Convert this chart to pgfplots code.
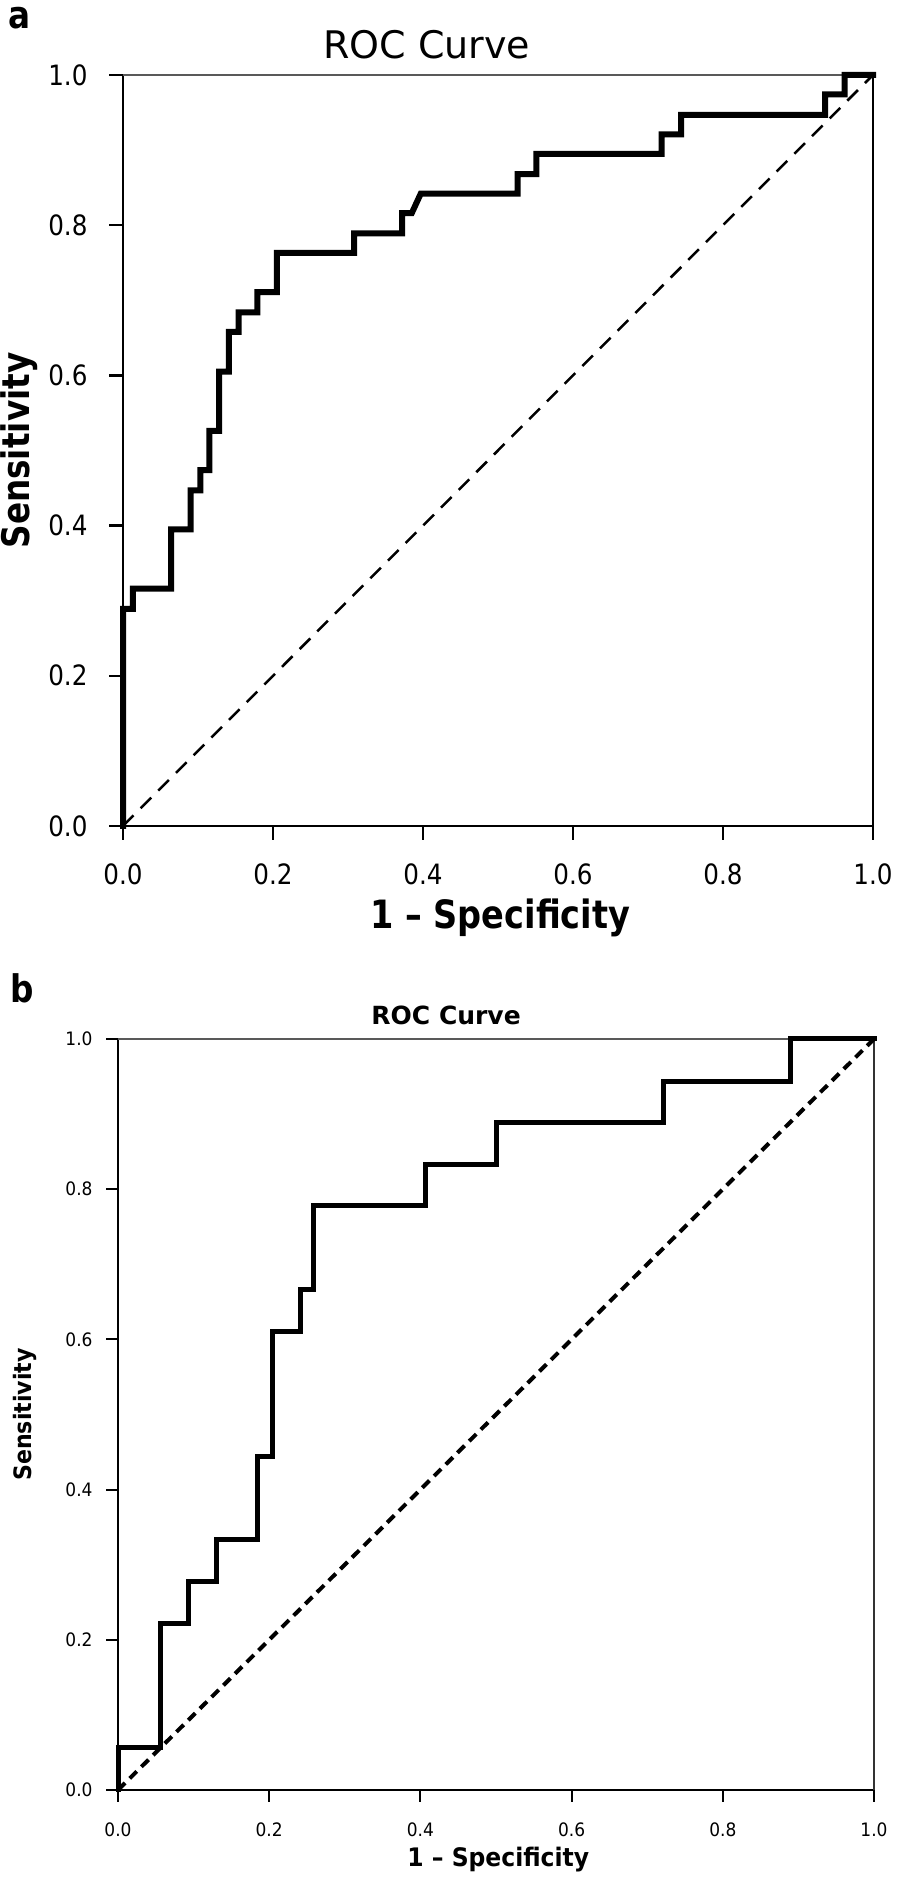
\documentclass[border=0pt]{standalone}
\usepackage{fontspec}
\usepackage{pgfplots}
\pgfplotsset{compat=1.18}
\setmainfont{DejaVu Sans}
\newfontfamily\fa[FakeStretch=0.88]{DejaVu Sans}
\newfontfamily\fal[FakeStretch=0.86]{DejaVu Sans}
\newfontfamily\fb[FakeStretch=0.92]{DejaVu Sans}
\begin{document}
\begin{tikzpicture}
\useasboundingbox (0,0) rectangle (358.4pt,751.2pt);
\pgfplotsset{
  roc/.style={
    scale only axis,
    xmin=0, xmax=1, ymin=0, ymax=1,
    enlargelimits=false,
    axis lines=left,
    axis line style={-},
    xtick={0,0.2,0.4,0.6,0.8,1.0},
    ytick={0,0.2,0.4,0.6,0.8,1.0},
    tick align=outside,
    /pgf/number format/.cd, fixed, fixed zerofill, precision=1, assume math mode=true,
    /pgfplots/.cd,
    clip=false,
  }
}
% ---------- panel a ----------
\begin{axis}[roc,
  at={(49.2pt,420.8pt)}, anchor=south west,
  width=300pt, height=300.4pt,
  axis line style={line width=1pt},
  major tick length=5.6pt,
  every tick/.style={black, line width=1pt},
  xticklabel style={font=\fa\fontsize{11.2pt}{12pt}\selectfont, anchor=center, inner sep=0pt, yshift=-13.6pt},
  yticklabel style={font=\fa\fontsize{11.2pt}{12pt}\selectfont, anchor=east, inner sep=0pt, xshift=-8.4pt},
  title={ROC Curve},
  title style={font=\fontsize{15.2pt}{16pt}\selectfont, at={(axis description cs:0.405,1.040)}, anchor=center, yshift=-6pt, inner sep=0pt},
  xlabel={1 \textendash\ Specificity},
  xlabel style={font=\fal\bfseries\fontsize{15.6pt}{16pt}\selectfont, at={(axis description cs:0.503,-0.1225)}, anchor=center, inner sep=0pt},
  ylabel={Sensitivity},
  ylabel style={font=\fal\bfseries\fontsize{15.2pt}{16pt}\selectfont, at={(axis description cs:-0.139,0.5)}, anchor=center, inner sep=0pt},
]
\draw[gray!70!black, line width=1pt] (rel axis cs:0,1) -- (rel axis cs:1,1);
\draw[black, line width=1pt] (rel axis cs:1,1) -- (rel axis cs:1,0);
\addplot[black, line width=1pt, dash pattern=on 6pt off 4pt] coordinates {(0,0) (1,1)};
\addplot[black, line width=2.4pt, line join=miter, line cap=rect] coordinates {
(0,0) (0,0.289) (0.013,0.289) (0.013,0.316) (0.064,0.316) (0.064,0.395)
(0.090,0.395) (0.090,0.447) (0.103,0.447) (0.103,0.474) (0.115,0.474)
(0.115,0.526) (0.128,0.526) (0.128,0.605) (0.141,0.605) (0.141,0.658)
(0.154,0.658) (0.154,0.684) (0.179,0.684) (0.179,0.711) (0.205,0.711)
(0.205,0.763) (0.308,0.763) (0.308,0.789) (0.372,0.789) (0.372,0.816)
(0.385,0.816) (0.397,0.842) (0.526,0.842) (0.526,0.868) (0.551,0.868)
(0.551,0.895) (0.718,0.895) (0.718,0.921) (0.744,0.921) (0.744,0.947)
(0.936,0.947) (0.936,0.974) (0.962,0.974) (0.962,1) (1,1)};
\end{axis}
% ---------- panel b ----------
\begin{axis}[roc,
  at={(47.2pt,35.2pt)}, anchor=south west,
  width=302.4pt, height=300.4pt,
  axis line style={line width=0.8pt},
  major tick length=4.8pt,
  every tick/.style={black, line width=0.8pt},
  xticklabel style={font=\fb\fontsize{7.4pt}{8pt}\selectfont, anchor=center, inner sep=0pt, yshift=-11.2pt},
  yticklabel style={font=\fb\fontsize{7.4pt}{8pt}\selectfont, anchor=east, inner sep=0pt, xshift=-5.2pt},
  title={ROC Curve},
  title style={font=\bfseries\fontsize{10pt}{11pt}\selectfont, at={(axis description cs:0.434,1.031)}, anchor=center, yshift=-6pt, inner sep=0pt},
  xlabel={1 \textendash\ Specificity},
  xlabel style={font=\fb\bfseries\fontsize{10.2pt}{11pt}\selectfont, at={(axis description cs:0.503,-0.092)}, anchor=center, inner sep=0pt},
  ylabel={Sensitivity},
  ylabel style={font=\fb\bfseries\fontsize{9.6pt}{11pt}\selectfont, at={(axis description cs:-0.123,0.5)}, anchor=center, inner sep=0pt},
]
\draw[gray!70!black, line width=0.6pt] (rel axis cs:0,1) -- (rel axis cs:1,1);
\draw[black!80, line width=0.7pt] (rel axis cs:1,1) -- (rel axis cs:1,0);
\addplot[black, line width=1.6pt, dash pattern=on 4pt off 2.6pt] coordinates {(0,0) (1,1)};
\addplot[black, line width=2pt, line join=miter, line cap=rect] coordinates {
(0,0) (0,0.056) (0.056,0.056) (0.056,0.222) (0.093,0.222) (0.093,0.278)
(0.130,0.278) (0.130,0.333) (0.185,0.333) (0.185,0.444) (0.204,0.444)
(0.204,0.611) (0.241,0.611) (0.241,0.667) (0.259,0.667) (0.259,0.778)
(0.407,0.778) (0.407,0.833) (0.5,0.833) (0.5,0.889) (0.722,0.889)
(0.722,0.944) (0.889,0.944) (0.889,1) (1,1)};
\end{axis}
\node[font=\fal\bfseries\fontsize{15.2pt}{16pt}\selectfont, anchor=center, inner sep=0pt] at (8pt,744pt) {a};
\node[font=\fal\bfseries\fontsize{15.2pt}{16pt}\selectfont, anchor=center, inner sep=0pt] at (9pt,356pt) {b};
\end{tikzpicture}
\end{document}
